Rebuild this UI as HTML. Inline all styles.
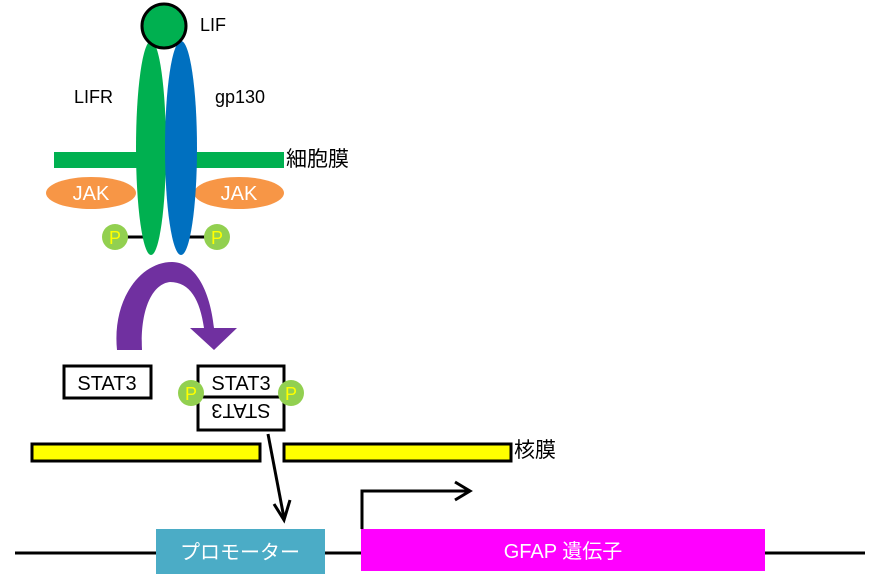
<!DOCTYPE html>
<html><head><meta charset="utf-8"><style>
html,body{margin:0;padding:0;background:#fff;width:874px;height:581px;overflow:hidden}
svg{display:block}
text{font-family:"Liberation Sans","Noto Sans CJK JP",sans-serif}
</style></head><body>
<svg width="874" height="581" viewBox="0 0 874 581" xmlns="http://www.w3.org/2000/svg">
<rect x="54" y="152" width="230" height="16" fill="#00b050"/>
<ellipse cx="91" cy="193" rx="45" ry="16" fill="#f79646"/>
<ellipse cx="239" cy="193" rx="45" ry="16" fill="#f79646"/>
<text x="91" y="200" font-size="20" fill="#fff" text-anchor="middle">JAK</text>
<text x="239" y="200" font-size="20" fill="#fff" text-anchor="middle">JAK</text>
<line x1="115" y1="237" x2="145" y2="237" stroke="#000" stroke-width="3"/>
<line x1="185" y1="237" x2="217" y2="237" stroke="#000" stroke-width="3"/>
<ellipse cx="151" cy="148" rx="15" ry="107" fill="#00b050"/>
<ellipse cx="181" cy="148" rx="16" ry="107" fill="#0070c0"/>
<circle cx="164" cy="26" r="22" fill="#00b050" stroke="#000" stroke-width="3"/>
<circle cx="115" cy="237" r="13" fill="#92d050"/>
<circle cx="217" cy="237" r="13" fill="#92d050"/>
<text x="115" y="244" font-size="18" fill="#ffff00" text-anchor="middle">P</text>
<text x="217" y="244" font-size="18" fill="#ffff00" text-anchor="middle">P</text>
<text x="200" y="31" font-size="18">LIF</text>
<text x="74" y="103" font-size="18">LIFR</text>
<text x="215" y="103" font-size="18">gp130</text>
<text x="286" y="166" font-size="21">細胞膜</text>
<path d="M117 350 C112 300 140 262 172 262 C195 262 210 290 214 328 L237 328 L214 350 L190 328 L204 328 C200 300 190 282 170 282 C152 284 140 310 142 350 Z" fill="#7030a0"/>
<rect x="64" y="366" width="87" height="32" fill="#fff" stroke="#000" stroke-width="3"/>
<text x="107" y="390" font-size="20" text-anchor="middle">STAT3</text>
<rect x="198" y="366" width="86" height="64" fill="#fff" stroke="#000" stroke-width="3"/>
<line x1="198" y1="397" x2="284" y2="397" stroke="#000" stroke-width="3"/>
<text x="241" y="390" font-size="20" text-anchor="middle">STAT3</text>
<text x="241" y="-404" font-size="20" text-anchor="middle" transform="scale(-1,-1) translate(-482,0)">STAT3</text>
<circle cx="191" cy="393" r="13" fill="#92d050"/>
<circle cx="291" cy="393" r="13" fill="#92d050"/>
<text x="191" y="400" font-size="18" fill="#ffff00" text-anchor="middle">P</text>
<text x="291" y="400" font-size="18" fill="#ffff00" text-anchor="middle">P</text>
<rect x="32" y="444" width="228" height="17" fill="#ffff00" stroke="#000" stroke-width="3"/>
<rect x="284" y="444" width="227" height="17" fill="#ffff00" stroke="#000" stroke-width="3"/>
<text x="514" y="457" font-size="21">核膜</text>
<line x1="268" y1="434" x2="284" y2="518" stroke="#000" stroke-width="3"/>
<polyline points="274,504 284,520 290,500" fill="none" stroke="#000" stroke-width="3"/>
<line x1="15" y1="553" x2="865" y2="553" stroke="#000" stroke-width="3"/>
<rect x="156" y="529" width="169" height="45" fill="#4bacc6"/>
<text x="240" y="559" font-size="20" fill="#fff" text-anchor="middle">プロモーター</text>
<rect x="361" y="529" width="404" height="42" fill="#ff00ff"/>
<text x="563" y="558" font-size="20" fill="#fff" text-anchor="middle">GFAP 遺伝子</text>
<polyline points="362,529 362,491 468,491" fill="none" stroke="#000" stroke-width="3"/>
<polyline points="455,482 470,491 455,500" fill="none" stroke="#000" stroke-width="3"/>
</svg>
</body></html>
